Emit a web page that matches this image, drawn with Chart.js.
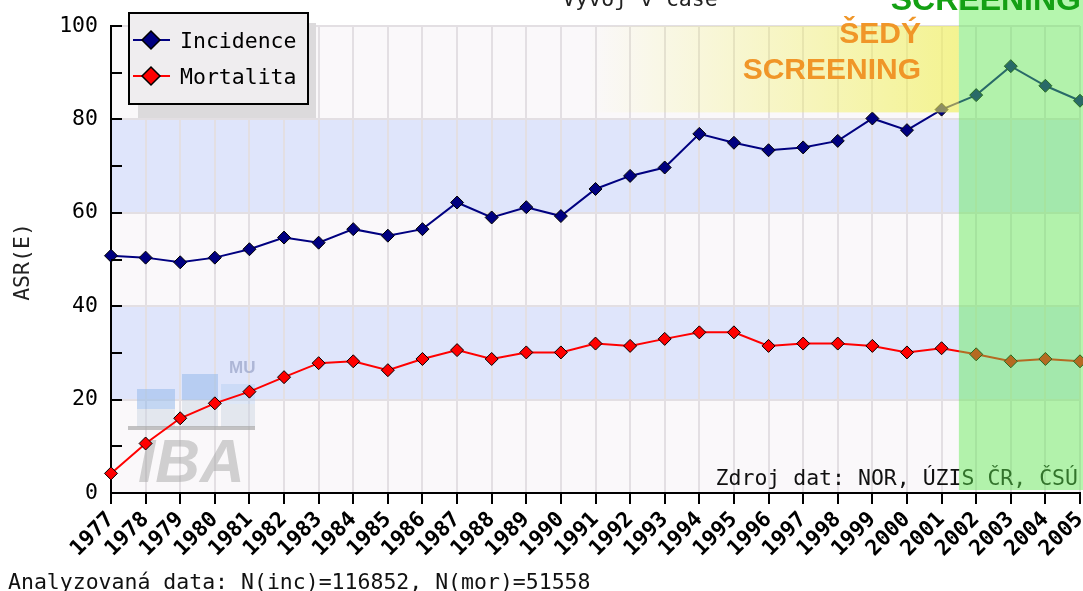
<!DOCTYPE html>
<html><head><meta charset="utf-8">
<script src="https://cdn.jsdelivr.net/npm/chart.js@4.4.0/dist/chart.umd.min.js"></script>
<style>html,body{margin:0;padding:0;background:#fff;overflow:hidden}canvas{display:block}</style>
</head><body>
<canvas id="c" width="1083" height="591"></canvas>
<script>
const years = ['1977','1978','1979','1980','1981','1982','1983','1984','1985','1986','1987','1988','1989','1990','1991','1992','1993','1994','1995','1996','1997','1998','1999','2000','2001','2002','2003','2004','2005'];
const incidence = [50.8,50.4,49.4,50.4,52.2,54.7,53.6,56.5,55.1,56.5,62.2,59.0,61.2,59.3,65.1,67.9,69.7,76.9,75.0,73.4,74.0,75.4,80.2,77.7,82.1,85.2,91.4,87.2,84.0];
const mortality = [4.2,10.6,16.0,19.2,21.7,24.8,27.8,28.2,26.3,28.7,30.6,28.7,30.1,30.1,32.0,31.5,33.0,34.4,34.4,31.5,32.0,32.0,31.5,30.1,31.0,29.7,28.2,28.7,28.2];
const yTicks = [0,20,40,60,80,100];
const seriesNames = ['Incidence','Mortalita'];
const bands = [[20,40],[60,80]];
const MONO = 'DejaVu Sans Mono';

const decor = {
  id:'decor',
  beforeDraw(chart){
    const {ctx, chartArea:a, scales:{y}} = chart;
    ctx.save();
    ctx.fillStyle='#fff'; ctx.fillRect(0,0,chart.width,chart.height);
    ctx.fillStyle='#faf8fa'; ctx.fillRect(a.left,a.top,a.right-a.left,a.bottom-a.top);
    ctx.fillStyle='#dfe5fb';
    bands.forEach(([lo,hi])=>{
      const t=y.getPixelForValue(hi), b=y.getPixelForValue(lo);
      ctx.fillRect(a.left,t,a.right-a.left,b-t);
    });
    ctx.restore();
  },
  beforeDatasetsDraw(chart){
    const {ctx} = chart;
    ctx.save();
    ctx.fillStyle='rgba(150,185,235,0.55)';
    ctx.fillRect(137,389,38,20);
    ctx.fillRect(182,374,36,26);
    ctx.fillStyle='rgba(170,200,240,0.35)';
    ctx.fillRect(221,384,34,20);
    ctx.fillStyle='rgba(200,210,225,0.45)';
    ctx.fillRect(137,409,38,18);
    ctx.fillRect(182,400,36,27);
    ctx.fillRect(221,404,34,23);
    ctx.fillStyle='rgba(170,170,170,0.7)';
    ctx.fillRect(128,426,127,4);
    ctx.fillStyle='rgba(165,165,165,0.5)';
    ctx.font='italic bold 62px "Liberation Sans", Arial, sans-serif';
    ctx.textBaseline='alphabetic'; ctx.textAlign='left';
    ctx.fillText('IBA',138,482);
    ctx.fillStyle='rgba(140,150,190,0.6)';
    ctx.font='bold 17px "Liberation Sans", Arial, sans-serif';
    ctx.fillText('MU',229,373);
    ctx.restore();
  },
  afterDatasetsDraw(chart){
    const {ctx, chartArea:a, scales:{x,y}} = chart;
    ctx.save();
    ctx.strokeStyle='#000'; ctx.lineWidth=2;
    for(let v=0; v<=100; v+=10){
      const py=Math.round(y.getPixelForValue(v));
      ctx.beginPath(); ctx.moveTo(a.left,py); ctx.lineTo(a.left+11,py); ctx.stroke();
    }
    ctx.fillStyle='#111';
    ctx.font='21.5px "'+MONO+'"';
    ctx.textAlign='right'; ctx.textBaseline='alphabetic';
    ctx.fillText('Zdroj dat: NOR, ÚZIS ČR, ČSÚ', 1078, 485);
    const xs = x.getPixelForValue(13.8), xg = x.getPixelForValue(24.5);
    const yt = y.getPixelForValue(100), yb = y.getPixelForValue(81.5);
    const g = ctx.createLinearGradient(xs,0,xg,0);
    g.addColorStop(0,'rgba(240,240,80,0)');
    g.addColorStop(1,'rgba(240,240,80,0.62)');
    ctx.fillStyle=g; ctx.fillRect(xs,yt,xg-xs,yb-yt);
    ctx.fillStyle='rgba(90,235,75,0.45)';
    ctx.fillRect(xg,0,chart.width-xg,y.getPixelForValue(0)-3);
    ctx.font='bold 30px "Liberation Sans", Arial, sans-serif';
    ctx.textAlign='right';
    ctx.fillStyle='#f09628';
    ctx.fillText('ŠEDÝ',921,43);
    ctx.fillText('SCREENING',921,79);
    ctx.font='bold 32px "Liberation Sans", Arial, sans-serif';
    ctx.fillStyle='#14a014';
    ctx.fillText('SCREENING',1081,10);
    ctx.fillStyle='#dcdadc'; ctx.fillRect(138,23,178,95);
    ctx.fillStyle='#efedef'; ctx.fillRect(129,13,179,91);
    ctx.strokeStyle='#000'; ctx.lineWidth=2; ctx.strokeRect(129,13,179,91);
    chart.data.datasets.forEach((ds,i)=>{
      const cy = 40 + i*36;
      ctx.strokeStyle=ds.borderColor; ctx.lineWidth=2;
      ctx.beginPath(); ctx.moveTo(133,cy); ctx.lineTo(170,cy); ctx.stroke();
      ctx.beginPath();
      ctx.moveTo(151-9,cy); ctx.lineTo(151,cy-9); ctx.lineTo(151+9,cy); ctx.lineTo(151,cy+9); ctx.closePath();
      ctx.fillStyle=ds.pointBackgroundColor; ctx.fill();
      ctx.strokeStyle='#000'; ctx.lineWidth=1.5; ctx.stroke();
      ctx.fillStyle='#000'; ctx.font='21.5px "'+MONO+'"';
      ctx.textAlign='left'; ctx.textBaseline='middle';
      ctx.fillText(ds.label,180,cy+2);
    });
    ctx.fillStyle='#222'; ctx.font='21.5px "'+MONO+'"';
    ctx.textAlign='center'; ctx.textBaseline='alphabetic';
    ctx.fillText('Vývoj v čase',640,6);
    ctx.save();
    ctx.translate(23,262); ctx.rotate(-Math.PI/2);
    ctx.textAlign='center'; ctx.textBaseline='middle';
    ctx.fillText('ASR(E)',0,0);
    ctx.restore();
    ctx.fillStyle='#111'; ctx.textAlign='left'; ctx.textBaseline='alphabetic';
    ctx.fillText('Analyzovaná data: N(inc)=116852, N(mor)=51558',8,589);
    ctx.restore();
  }
};

new Chart(document.getElementById('c'),{
  type:'line',
  data:{
    labels:years,
    datasets:[
      {label:seriesNames[0], data:incidence, borderColor:'#000080', backgroundColor:'#000080', borderWidth:2,
       pointStyle:'rectRot', pointRadius:6.5, pointBackgroundColor:'#000080', pointBorderColor:'#000', pointBorderWidth:1, tension:0, clip:false},
      {label:seriesNames[1], data:mortality, borderColor:'#ff0000', backgroundColor:'#ff0000', borderWidth:2,
       pointStyle:'rectRot', pointRadius:6.5, pointBackgroundColor:'#ff0000', pointBorderColor:'#000', pointBorderWidth:1, tension:0, clip:false}
    ]
  },
  options:{
    responsive:false, animation:false, devicePixelRatio:1,
    layout:{autoPadding:false, padding:{top:26,right:3,left:0,bottom:0}},
    plugins:{legend:{display:false}, tooltip:{enabled:false}, title:{display:false}},
    scales:{
      x:{
        offset:false,
        grid:{color:'#e3dfe3', lineWidth:2, tickLength:11, tickColor:'#000', tickWidth:2},
        border:{color:'#000', width:2},
        ticks:{autoSkip:false, maxRotation:45, minRotation:45, color:'#000', padding:3,
               font:{family:MONO, size:21.5, weight:'bold'}},
        afterFit(s){ s.height=98; s.paddingRight=0; s.paddingLeft=0; }
      },
      y:{
        min:0, max:100,
        afterBuildTicks(s){ s.ticks = yTicks.map(v=>({value:v})); },
        grid:{color:'#e3dfe3', lineWidth:2, drawTicks:false},
        border:{color:'#000', width:2},
        ticks:{color:'#000', padding:13, font:{family:MONO, size:21.5}},
        afterFit(s){ s.width=111; }
      }
    }
  },
  plugins:[decor]
});
</script>
</body></html>
